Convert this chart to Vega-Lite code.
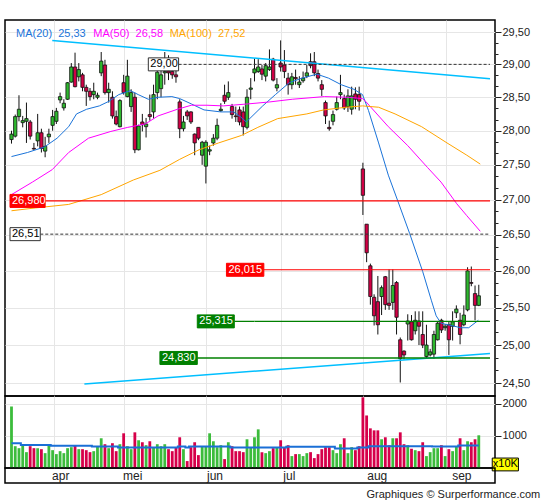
{
  "$schema": "https://vega.github.io/schema/vega-lite/v6.json",
  "background": "#ffffff",
  "padding": {"left": 4, "top": 19, "right": 2, "bottom": 2},
  "spacing": 0,
  "bounds": "flush",
  "title": {"text": "Graphiques © Surperformance.com", "orient": "bottom", "anchor": "end", "font": "Liberation Sans", "fontSize": 11, "fontWeight": "normal", "color": "#222222", "offset": 5, "dx": 10},
  "datasets": {
    "ohlc": [
      {"i":0,"o":27.87,"h":28.00,"l":27.81,"c":27.95,"v":1916,"m":770},
      {"i":1,"o":27.92,"h":28.24,"l":27.90,"c":28.21,"v":680,"m":770},
      {"i":2,"o":28.21,"h":28.53,"l":28.14,"c":28.32,"v":618,"m":770},
      {"i":3,"o":28.12,"h":28.22,"l":28.05,"c":28.15,"v":721,"m":721},
      {"i":4,"o":28.14,"h":28.42,"l":27.82,"c":28.18,"v":494,"m":721},
      {"i":5,"o":28.13,"h":28.16,"l":27.87,"c":27.92,"v":680,"m":721},
      {"i":6,"o":27.74,"h":27.82,"l":27.72,"c":27.73,"v":618,"m":721},
      {"i":7,"o":27.85,"h":28.25,"l":27.77,"c":27.97,"v":618,"m":721},
      {"i":8,"o":27.97,"h":28.03,"l":27.68,"c":27.74,"v":587,"m":721},
      {"i":9,"o":27.70,"h":27.91,"l":27.61,"c":27.77,"v":463,"m":721},
      {"i":10,"o":27.91,"h":28.03,"l":27.82,"c":27.95,"v":721,"m":721},
      {"i":11,"o":28.08,"h":28.31,"l":28.00,"c":28.21,"v":556,"m":690},
      {"i":12,"o":28.14,"h":28.34,"l":28.10,"c":28.29,"v":433,"m":690},
      {"i":13,"o":28.46,"h":28.57,"l":28.41,"c":28.51,"v":525,"m":690},
      {"i":14,"o":28.34,"h":28.47,"l":28.30,"c":28.41,"v":463,"m":690},
      {"i":15,"o":28.47,"h":28.73,"l":28.46,"c":28.72,"v":618,"m":690},
      {"i":16,"o":28.73,"h":29.02,"l":28.72,"c":28.96,"v":649,"m":690},
      {"i":17,"o":28.96,"h":29.18,"l":28.65,"c":28.66,"v":700,"m":690},
      {"i":18,"o":28.81,"h":29.02,"l":28.74,"c":28.92,"v":587,"m":690},
      {"i":19,"o":28.84,"h":28.87,"l":28.59,"c":28.65,"v":587,"m":690},
      {"i":20,"o":28.65,"h":28.69,"l":28.37,"c":28.59,"v":556,"m":690},
      {"i":21,"o":28.59,"h":28.64,"l":28.45,"c":28.51,"v":494,"m":690},
      {"i":22,"o":28.54,"h":28.72,"l":28.47,"c":28.59,"v":525,"m":670},
      {"i":23,"o":28.50,"h":28.57,"l":28.47,"c":28.53,"v":670,"m":670},
      {"i":24,"o":28.87,"h":29.19,"l":28.82,"c":29.05,"v":927,"m":670},
      {"i":25,"o":28.99,"h":29.07,"l":28.54,"c":28.57,"v":742,"m":670},
      {"i":26,"o":28.57,"h":28.72,"l":28.42,"c":28.62,"v":618,"m":670},
      {"i":27,"o":28.50,"h":28.59,"l":28.18,"c":28.22,"v":773,"m":670},
      {"i":28,"o":28.21,"h":28.30,"l":28.08,"c":28.10,"v":525,"m":670},
      {"i":29,"o":28.06,"h":28.47,"l":28.05,"c":28.45,"v":742,"m":639},
      {"i":30,"o":28.72,"h":28.84,"l":28.54,"c":28.57,"v":1082,"m":639},
      {"i":31,"o":28.51,"h":29.07,"l":28.50,"c":28.82,"v":680,"m":639},
      {"i":32,"o":28.36,"h":28.62,"l":28.28,"c":28.57,"v":587,"m":639},
      {"i":33,"o":28.50,"h":28.57,"l":27.67,"c":27.72,"v":1112,"m":639},
      {"i":34,"o":27.72,"h":28.09,"l":27.71,"c":28.07,"v":865,"m":639},
      {"i":35,"o":28.13,"h":28.25,"l":27.99,"c":28.09,"v":803,"m":639},
      {"i":36,"o":28.06,"h":28.19,"l":27.90,"c":28.10,"v":711,"m":639},
      {"i":37,"o":28.24,"h":28.54,"l":28.15,"c":28.21,"v":834,"m":639},
      {"i":38,"o":28.28,"h":28.69,"l":28.18,"c":28.54,"v":649,"m":639},
      {"i":39,"o":28.57,"h":29.04,"l":28.47,"c":28.88,"v":742,"m":639},
      {"i":40,"o":28.63,"h":28.96,"l":28.50,"c":28.84,"v":680,"m":639},
      {"i":41,"o":28.87,"h":29.19,"l":28.69,"c":28.89,"v":742,"m":639},
      {"i":42,"o":28.90,"h":29.14,"l":28.76,"c":28.87,"v":587,"m":639},
      {"i":43,"o":28.89,"h":29.02,"l":28.78,"c":28.84,"v":525,"m":639},
      {"i":44,"o":28.84,"h":28.92,"l":28.72,"c":28.81,"v":649,"m":639},
      {"i":45,"o":28.43,"h":28.47,"l":27.89,"c":28.03,"v":958,"m":670},
      {"i":46,"o":28.03,"h":28.22,"l":27.99,"c":28.13,"v":587,"m":670},
      {"i":47,"o":28.28,"h":28.31,"l":28.16,"c":28.22,"v":216,"m":639},
      {"i":48,"o":28.28,"h":28.29,"l":28.10,"c":28.13,"v":649,"m":670},
      {"i":49,"o":27.95,"h":27.96,"l":27.64,"c":27.82,"v":803,"m":670},
      {"i":50,"o":28.05,"h":28.05,"l":27.86,"c":27.89,"v":402,"m":670},
      {"i":51,"o":27.64,"h":27.85,"l":27.50,"c":27.83,"v":680,"m":670},
      {"i":52,"o":27.48,"h":27.86,"l":27.23,"c":27.83,"v":680,"m":670},
      {"i":53,"o":27.70,"h":27.78,"l":27.64,"c":27.72,"v":1082,"m":670},
      {"i":54,"o":27.82,"h":27.95,"l":27.78,"c":27.89,"v":834,"m":670},
      {"i":55,"o":27.89,"h":28.18,"l":27.86,"c":28.08,"v":649,"m":670},
      {"i":56,"o":28.30,"h":28.41,"l":28.28,"c":28.32,"v":711,"m":670},
      {"i":57,"o":28.53,"h":28.69,"l":28.40,"c":28.44,"v":278,"m":670},
      {"i":58,"o":28.50,"h":28.74,"l":28.46,"c":28.57,"v":803,"m":670},
      {"i":59,"o":28.36,"h":28.40,"l":28.18,"c":28.24,"v":680,"m":639},
      {"i":60,"o":28.22,"h":28.36,"l":28.13,"c":28.21,"v":525,"m":639},
      {"i":61,"o":28.31,"h":28.36,"l":28.08,"c":28.13,"v":525,"m":639},
      {"i":62,"o":28.28,"h":28.36,"l":27.93,"c":28.06,"v":494,"m":639},
      {"i":63,"o":28.05,"h":28.62,"l":28.02,"c":28.50,"v":896,"m":639},
      {"i":64,"o":28.62,"h":28.79,"l":28.47,"c":28.64,"v":639,"m":639},
      {"i":65,"o":28.87,"h":29.09,"l":28.74,"c":28.93,"v":958,"m":639},
      {"i":66,"o":28.89,"h":29.08,"l":28.87,"c":28.96,"v":1205,"m":639},
      {"i":67,"o":28.93,"h":28.99,"l":28.76,"c":28.85,"v":494,"m":639},
      {"i":68,"o":28.82,"h":29.02,"l":28.74,"c":28.98,"v":463,"m":639},
      {"i":69,"o":28.92,"h":29.23,"l":28.90,"c":28.96,"v":525,"m":639},
      {"i":70,"o":29.08,"h":29.10,"l":28.74,"c":28.76,"v":618,"m":639},
      {"i":71,"o":28.64,"h":28.79,"l":28.59,"c":28.69,"v":639,"m":639},
      {"i":72,"o":29.02,"h":29.37,"l":28.89,"c":28.96,"v":865,"m":639},
      {"i":73,"o":28.99,"h":29.22,"l":28.79,"c":28.89,"v":639,"m":639},
      {"i":74,"o":28.79,"h":28.87,"l":28.54,"c":28.69,"v":711,"m":659},
      {"i":75,"o":28.69,"h":28.87,"l":28.62,"c":28.81,"v":371,"m":659},
      {"i":76,"o":28.80,"h":28.92,"l":28.69,"c":28.78,"v":433,"m":659},
      {"i":77,"o":28.69,"h":28.82,"l":28.64,"c":28.73,"v":433,"m":659},
      {"i":78,"o":28.75,"h":28.89,"l":28.72,"c":28.79,"v":371,"m":659},
      {"i":79,"o":28.82,"h":28.99,"l":28.79,"c":28.87,"v":463,"m":659},
      {"i":80,"o":29.04,"h":29.17,"l":28.94,"c":28.98,"v":494,"m":659},
      {"i":81,"o":29.04,"h":29.19,"l":28.82,"c":28.87,"v":309,"m":659},
      {"i":82,"o":28.86,"h":28.92,"l":28.74,"c":28.79,"v":433,"m":659},
      {"i":83,"o":28.69,"h":28.76,"l":28.52,"c":28.62,"v":587,"m":659},
      {"i":84,"o":28.42,"h":28.45,"l":28.10,"c":28.22,"v":649,"m":659},
      {"i":85,"o":28.05,"h":28.15,"l":28.00,"c":28.03,"v":649,"m":659},
      {"i":86,"o":28.14,"h":28.30,"l":28.08,"c":28.24,"v":556,"m":659},
      {"i":87,"o":28.32,"h":28.51,"l":28.30,"c":28.42,"v":463,"m":608},
      {"i":88,"o":28.54,"h":28.84,"l":28.47,"c":28.57,"v":742,"m":608},
      {"i":89,"o":28.48,"h":28.54,"l":28.31,"c":28.34,"v":927,"m":608},
      {"i":90,"o":28.36,"h":28.62,"l":28.28,"c":28.52,"v":463,"m":608},
      {"i":91,"o":28.32,"h":28.66,"l":28.24,"c":28.52,"v":649,"m":608},
      {"i":92,"o":28.55,"h":28.65,"l":28.32,"c":28.47,"v":556,"m":608},
      {"i":93,"o":28.54,"h":28.66,"l":28.30,"c":28.44,"v":680,"m":639},
      {"i":94,"o":27.44,"h":27.53,"l":26.78,"c":27.06,"v":2204,"m":639},
      {"i":95,"o":26.65,"h":26.65,"l":26.12,"c":26.25,"v":1638,"m":639},
      {"i":96,"o":26.07,"h":26.10,"l":25.54,"c":25.65,"v":1236,"m":680},
      {"i":97,"o":25.64,"h":25.68,"l":25.26,"c":25.39,"v":1174,"m":680},
      {"i":98,"o":25.58,"h":25.93,"l":25.14,"c":25.27,"v":1174,"m":680},
      {"i":99,"o":25.65,"h":25.80,"l":25.40,"c":25.77,"v":896,"m":680},
      {"i":100,"o":25.92,"h":25.93,"l":25.47,"c":25.54,"v":958,"m":680},
      {"i":101,"o":25.56,"h":26.02,"l":25.47,"c":25.53,"v":711,"m":680},
      {"i":102,"o":25.57,"h":26.02,"l":25.47,"c":25.80,"v":927,"m":680},
      {"i":103,"o":25.84,"h":25.86,"l":25.14,"c":25.37,"v":927,"m":680},
      {"i":104,"o":25.07,"h":25.10,"l":24.51,"c":24.82,"v":1112,"m":680},
      {"i":105,"o":24.92,"h":24.93,"l":24.81,"c":24.87,"v":742,"m":680},
      {"i":106,"o":25.28,"h":25.41,"l":25.06,"c":25.32,"v":711,"m":680},
      {"i":107,"o":25.31,"h":25.40,"l":25.06,"c":25.07,"v":600,"m":680},
      {"i":108,"o":25.19,"h":25.45,"l":25.14,"c":25.33,"v":556,"m":680},
      {"i":109,"o":25.32,"h":25.45,"l":25.00,"c":25.25,"v":525,"m":680},
      {"i":110,"o":25.14,"h":25.45,"l":24.96,"c":25.00,"v":803,"m":680},
      {"i":111,"o":24.85,"h":25.27,"l":24.82,"c":25.00,"v":371,"m":680},
      {"i":112,"o":24.87,"h":24.95,"l":24.85,"c":24.91,"v":494,"m":680},
      {"i":113,"o":24.88,"h":25.19,"l":24.82,"c":25.14,"v":618,"m":670},
      {"i":114,"o":25.07,"h":25.32,"l":25.06,"c":25.29,"v":618,"m":670},
      {"i":115,"o":25.33,"h":25.35,"l":25.16,"c":25.20,"v":711,"m":670},
      {"i":116,"o":25.23,"h":25.28,"l":25.19,"c":25.25,"v":371,"m":670},
      {"i":117,"o":25.27,"h":25.32,"l":24.87,"c":25.07,"v":587,"m":670},
      {"i":118,"o":25.25,"h":25.45,"l":25.06,"c":25.31,"v":525,"m":670},
      {"i":119,"o":25.43,"h":25.53,"l":25.36,"c":25.48,"v":680,"m":670},
      {"i":120,"o":25.33,"h":25.43,"l":25.01,"c":25.14,"v":927,"m":700},
      {"i":121,"o":25.27,"h":25.53,"l":25.25,"c":25.40,"v":556,"m":700},
      {"i":122,"o":25.47,"h":26.05,"l":25.45,"c":26.00,"v":834,"m":700},
      {"i":123,"o":25.84,"h":26.06,"l":25.79,"c":25.83,"v":803,"m":700},
      {"i":124,"o":25.69,"h":25.80,"l":25.33,"c":25.53,"v":896,"m":700},
      {"i":125,"o":25.53,"h":25.81,"l":25.52,"c":25.66,"v":1020,"m":700}
    ],
    "ma": [
      {"s":"ma20","i":0,"v":27.62},{"s":"ma20","i":4.3,"v":27.68},{"s":"ma20","i":8.8,"v":27.76},{"s":"ma20","i":12.2,"v":27.89},
      {"s":"ma20","i":15.3,"v":28.06},{"s":"ma20","i":17.4,"v":28.25},{"s":"ma20","i":20.1,"v":28.32},{"s":"ma20","i":23.5,"v":28.37},
      {"s":"ma20","i":26.1,"v":28.44},{"s":"ma20","i":28.7,"v":28.54},{"s":"ma20","i":31.8,"v":28.60},{"s":"ma20","i":33.9,"v":28.54},
      {"s":"ma20","i":36.6,"v":28.47},{"s":"ma20","i":39.2,"v":28.50},{"s":"ma20","i":42.9,"v":28.51},{"s":"ma20","i":45,"v":28.48},
      {"s":"ma20","i":48.1,"v":28.40},{"s":"ma20","i":51.5,"v":28.31},{"s":"ma20","i":56,"v":28.28},{"s":"ma20","i":59.4,"v":28.28},
      {"s":"ma20","i":61.2,"v":28.21},{"s":"ma20","i":62.8,"v":28.13},{"s":"ma20","i":67.2,"v":28.37},{"s":"ma20","i":70.6,"v":28.54},
      {"s":"ma20","i":74.3,"v":28.72},{"s":"ma20","i":77.7,"v":28.79},{"s":"ma20","i":81.7,"v":28.85},{"s":"ma20","i":84.8,"v":28.79},
      {"s":"ma20","i":88.2,"v":28.69},{"s":"ma20","i":91.6,"v":28.62},{"s":"ma20","i":93.9,"v":28.54},{"s":"ma20","i":95.5,"v":28.30},
      {"s":"ma20","i":98.2,"v":27.82},{"s":"ma20","i":100.8,"v":27.35},{"s":"ma20","i":103.4,"v":26.97},{"s":"ma20","i":106.5,"v":26.52},
      {"s":"ma20","i":110,"v":25.99},{"s":"ma20","i":112.3,"v":25.60},{"s":"ma20","i":113.6,"v":25.39},{"s":"ma20","i":114.9,"v":25.29},
      {"s":"ma20","i":117.6,"v":25.26},{"s":"ma20","i":120.2,"v":25.23},{"s":"ma20","i":122.3,"v":25.23},{"s":"ma20","i":124.9,"v":25.33},
      {"s":"ma50","i":0,"v":27.07},{"s":"ma50","i":5.6,"v":27.25},{"s":"ma50","i":10.9,"v":27.43},{"s":"ma50","i":15.3,"v":27.68},
      {"s":"ma50","i":20.6,"v":27.89},{"s":"ma50","i":26.6,"v":27.99},{"s":"ma50","i":31.1,"v":28.05},{"s":"ma50","i":35.8,"v":28.10},
      {"s":"ma50","i":39.2,"v":28.22},{"s":"ma50","i":44.4,"v":28.32},{"s":"ma50","i":48.1,"v":28.38},{"s":"ma50","i":52.3,"v":28.38},
      {"s":"ma50","i":56.7,"v":28.37},{"s":"ma50","i":63.3,"v":28.40},{"s":"ma50","i":69.1,"v":28.43},{"s":"ma50","i":75.1,"v":28.47},
      {"s":"ma50","i":83.7,"v":28.51},{"s":"ma50","i":90,"v":28.50},{"s":"ma50","i":93.9,"v":28.48},{"s":"ma50","i":94.7,"v":28.44},
      {"s":"ma50","i":100.8,"v":28.06},{"s":"ma50","i":106,"v":27.78},{"s":"ma50","i":111.3,"v":27.46},{"s":"ma50","i":114.9,"v":27.25},
      {"s":"ma50","i":119.1,"v":26.94},{"s":"ma50","i":121.8,"v":26.77},{"s":"ma50","i":125.4,"v":26.55},
      {"s":"ma100","i":0,"v":26.84},{"s":"ma100","i":6.4,"v":26.88},{"s":"ma100","i":15.3,"v":26.93},{"s":"ma100","i":24,"v":27.07},
      {"s":"ma100","i":32.6,"v":27.28},{"s":"ma100","i":39.7,"v":27.42},{"s":"ma100","i":45,"v":27.58},{"s":"ma100","i":50.2,"v":27.72},
      {"s":"ma100","i":55.4,"v":27.82},{"s":"ma100","i":61.5,"v":27.93},{"s":"ma100","i":65.9,"v":28.05},{"s":"ma100","i":71.2,"v":28.18},
      {"s":"ma100","i":79,"v":28.25},{"s":"ma100","i":83.5,"v":28.31},{"s":"ma100","i":89.5,"v":28.35},{"s":"ma100","i":93.9,"v":28.37},
      {"s":"ma100","i":98.2,"v":28.35},{"s":"ma100","i":102.6,"v":28.25},{"s":"ma100","i":109.7,"v":28.06},{"s":"ma100","i":116.5,"v":27.82},
      {"s":"ma100","i":121.8,"v":27.64},{"s":"ma100","i":125.4,"v":27.51}
    ],
    "trend": [
      {"t":"top","i":10.9,"v":29.37},{"t":"top","i":128,"v":28.78},
      {"t":"bot","i":19.5,"v":24.49},{"t":"bot","i":128,"v":24.89}
    ],
    "levels": [
      {"lbl":"29,00","v":29.0,"k":"ref","b0":36.6,"b1":44.7},
      {"lbl":"26,980","v":26.98,"k":"res2","b0":-0.4,"b1":9.0},
      {"lbl":"26,51","v":26.51,"k":"ref","b0":-0.4,"b1":7.7},
      {"lbl":"26,015","v":26.015,"k":"res","b0":57.5,"b1":67.5},
      {"lbl":"25,315","v":25.315,"k":"sup","b0":49.7,"b1":59.6},
      {"lbl":"24,830","v":24.83,"k":"sup2","b0":39.7,"b1":49.7}
    ],
    "legend": [
      {"s":"ma20","t":"MA(20)\u00a0 25,33","i":1.2},
      {"s":"ma50","t":"MA(50)\u00a0 26,58","i":21.9},
      {"s":"ma100","t":"MA(100)\u00a0 27,52","i":42.3}
    ],
    "months": [
      {"m":"apr","i":11.4},{"m":"mei","i":30},{"m":"jun","i":52},
      {"m":"jul","i":72},{"m":"aug","i":94},{"m":"sep","i":116.25}
    ]
  },
  "vconcat": [
    {
      "width": 490,
      "height": 376,
      "resolve": {"scale": {"color": "independent", "fill": "independent", "stroke": "independent"}},
      "layer": [
        {
          "data": {"name": "ohlc"},
          "mark": {"type": "rule", "color": "#111111", "strokeWidth": 1},
          "encoding": {
            "x": {"field": "i", "type": "quantitative", "title": null,
                  "scale": {"domain": [-0.4, 128], "nice": false, "zero": false},
                  "axis": {"values": [11.4, 30, 52, 72, 94, 116.25], "grid": true, "labels": false, "ticks": false, "domain": false}},
            "y": {"field": "l", "type": "quantitative", "title": null,
                  "scale": {"type": "log", "domain": [24.4, 29.61], "nice": false, "zero": false},
                  "axis": {"orient": "right", "domain": false, "labelOverlap": false, "labelFlush": false, "labelBound": false, "labelPadding": 1,
                           "values": [24.5,24.6667,24.8333,25,25.1667,25.3333,25.5,25.6667,25.8333,26,26.1667,26.3333,26.5,26.6667,26.8333,27,27.1667,27.3333,27.5,27.6667,27.8333,28,28.1667,28.3333,28.5,28.6667,28.8333,29,29.1667,29.3333,29.5],
                           "labelExpr": "abs(datum.value*2-round(datum.value*2))<0.01 ? replace(format(datum.value,'.2f'),'.',',') : ''",
                           "tickSize": {"condition": {"test": "abs(datum.value*2-round(datum.value*2))<0.01", "value": 6}, "value": 3},
                           "gridOpacity": {"condition": {"test": "abs(datum.value*2-round(datum.value*2))<0.01", "value": 1}, "value": 0}}},
            "y2": {"field": "h"}
          }
        },
        {
          "data": {"name": "ohlc"},
          "mark": {"type": "bar", "width": 3.3, "stroke": "#111111", "strokeWidth": 0.8},
          "encoding": {
            "x": {"field": "i", "type": "quantitative", "title": null},
            "y": {"field": "o", "type": "quantitative", "title": null},
            "y2": {"field": "c"},
            "color": {"condition": {"test": "datum.c >= datum.o", "value": "#2eb82e"}, "value": "#d10045"}
          }
        },
        {
          "data": {"name": "ma"},
          "mark": {"type": "line", "strokeWidth": 1, "clip": true},
          "encoding": {
            "x": {"field": "i", "type": "quantitative", "title": null},
            "y": {"field": "v", "type": "quantitative", "title": null},
            "color": {"field": "s", "type": "nominal", "scale": {"domain": ["ma20", "ma50", "ma100"], "range": ["#1a73d9", "#ff00ff", "#ffa500"]}, "legend": null}
          }
        },
        {
          "data": {"name": "trend"},
          "mark": {"type": "line", "color": "#00bfff", "strokeWidth": 1.5, "clip": true},
          "encoding": {
            "x": {"field": "i", "type": "quantitative", "title": null},
            "y": {"field": "v", "type": "quantitative", "title": null},
            "detail": {"field": "t"}
          }
        },
        {
          "data": {"name": "levels"},
          "mark": {"type": "rule", "clip": true},
          "encoding": {
            "x": {"field": "b1", "type": "quantitative", "title": null},
            "x2": {"datum": 128},
            "y": {"field": "v", "type": "quantitative", "title": null},
            "stroke": {"field": "k", "type": "nominal", "legend": null,
                       "scale": {"domain": ["ref", "res", "res2", "sup", "sup2"], "range": ["#333333", "#ff0000", "#ff0000", "#008000", "#008000"]}},
            "strokeWidth": {"field": "k", "type": "nominal", "legend": null,
                            "scale": {"domain": ["ref", "res", "res2", "sup", "sup2"], "range": [1, 1.5, 3, 1.5, 3.5]}},
            "strokeDash": {"field": "k", "type": "nominal", "legend": null,
                           "scale": {"domain": ["ref", "res", "res2", "sup", "sup2"], "range": [[3, 2], [1, 0], [1, 0], [1, 0], [1, 0]]}}
          }
        },
        {
          "data": {"name": "levels"},
          "mark": {"type": "bar", "orient": "horizontal", "height": 13, "strokeWidth": 1},
          "encoding": {
            "x": {"field": "b0", "type": "quantitative", "title": null},
            "x2": {"field": "b1"},
            "y": {"field": "v", "type": "quantitative", "title": null},
            "fill": {"field": "k", "type": "nominal", "legend": null,
                     "scale": {"domain": ["ref", "res", "res2", "sup", "sup2"], "range": ["#ffffff", "#ff0000", "#ff0000", "#008000", "#008000"]}},
            "stroke": {"field": "k", "type": "nominal", "legend": null,
                       "scale": {"domain": ["ref", "res", "res2", "sup", "sup2"], "range": ["#333333", "#ff0000", "#ff0000", "#008000", "#008000"]}}
          }
        },
        {
          "data": {"name": "levels"},
          "mark": {"type": "text", "align": "left", "baseline": "middle", "dx": 2, "fontSize": 11},
          "encoding": {
            "x": {"field": "b0", "type": "quantitative", "title": null},
            "y": {"field": "v", "type": "quantitative", "title": null},
            "text": {"field": "lbl"},
            "color": {"condition": {"test": "datum.k == 'ref'", "value": "#000000"}, "value": "#ffffff"}
          }
        },
        {
          "data": {"name": "legend"},
          "mark": {"type": "text", "align": "left", "baseline": "middle", "fontSize": 11},
          "encoding": {
            "x": {"field": "i", "type": "quantitative", "title": null},
            "y": {"datum": 29.47},
            "text": {"field": "t"},
            "color": {"field": "s", "type": "nominal", "legend": null,
                      "scale": {"domain": ["ma20", "ma50", "ma100"], "range": ["#1a73d9", "#ff00ff", "#ffa500"]}}
          }
        }
      ]
    },
    {
      "width": 490,
      "height": 72,
      "layer": [
        {
          "data": {"name": "ohlc"},
          "mark": {"type": "bar", "width": 2.8},
          "encoding": {
            "x": {"field": "i", "type": "quantitative", "title": null,
                  "scale": {"domain": [-0.4, 128], "nice": false, "zero": false},
                  "axis": {"values": [11.4, 30, 52, 72, 94, 116.25], "grid": true, "labels": false, "ticks": false, "domain": false}},
            "y": {"field": "v", "type": "quantitative", "title": null,
                  "scale": {"domain": [0, 2245], "nice": false},
                  "axis": {"orient": "right", "domain": false, "labelOverlap": false, "labelFlush": false, "labelBound": false, "labelPadding": 1,
                           "values": [1000, 2000], "format": "d", "tickSize": 6, "grid": true}},
            "color": {"condition": {"test": "datum.c >= datum.o", "value": "#3cbc3c"}, "value": "#d6004a"}
          }
        },
        {
          "data": {"name": "ohlc"},
          "mark": {"type": "line", "interpolate": "step", "color": "#1a6fd6", "strokeWidth": 2},
          "encoding": {
            "x": {"field": "i", "type": "quantitative", "title": null},
            "y": {"field": "m", "type": "quantitative", "title": null}
          }
        },
        {
          "data": {"values": [{}]},
          "mark": {"type": "rect", "fill": "#ffff00", "stroke": "#000000", "strokeWidth": 1},
          "encoding": {
            "x": {"datum": 128.6},
            "x2": {"datum": 135.6},
            "y": {"datum": -90},
            "y2": {"datum": 310}
          }
        },
        {
          "data": {"values": [{}]},
          "mark": {"type": "text", "text": "x10K", "fontSize": 11, "color": "#000000", "baseline": "middle"},
          "encoding": {
            "x": {"datum": 132.1},
            "y": {"datum": 110}
          }
        }
      ]
    },
    {
      "width": 490,
      "height": 15,
      "data": {"name": "months"},
      "mark": {"type": "text", "align": "left", "baseline": "middle", "dx": 2, "fontSize": 12, "color": "#222222"},
      "encoding": {
        "x": {"field": "i", "type": "quantitative", "title": null,
              "scale": {"domain": [-0.4, 128], "nice": false, "zero": false}, "axis": null},
        "text": {"field": "m"}
      }
    }
  ],
  "config": {
    "font": "Liberation Sans",
    "view": {"stroke": "#000000", "strokeWidth": 1.5},
    "axis": {"labelFont": "Liberation Sans", "labelFontSize": 11, "labelColor": "#222222", "tickColor": "#222222", "gridColor": "#e6e6e6", "gridWidth": 1}
  }
}
